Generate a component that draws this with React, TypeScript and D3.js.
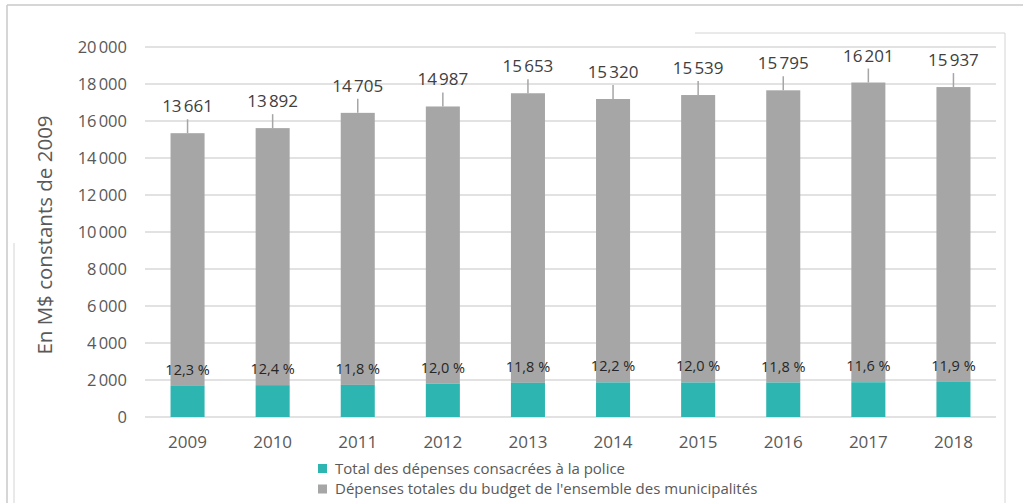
import React from 'react';
import * as d3 from 'd3';

const years = ['2009', '2010', '2011', '2012', '2013', '2014', '2015', '2016', '2017', '2018'];
// budget total hors police (étiquettes au-dessus des barres)
const totalBudget = [13661, 13892, 14705, 14987, 15653, 15320, 15539, 15795, 16201, 15937];
// dépenses de police (segment turquoise)
const policeSpend = [1680, 1723, 1735, 1798, 1847, 1869, 1865, 1864, 1879, 1897];
const policeShare = ['12,3 %', '12,4 %', '11,8 %', '12,0 %', '11,8 %', '12,2 %', '12,0 %', '11,8 %', '11,6 %', '11,9 %'];
const yTicks = [0, 2000, 4000, 6000, 8000, 10000, 12000, 14000, 16000, 18000, 20000];
const legendLabels = [
  'Total des dépenses consacrées à la police',
  "Dépenses totales du budget de l'ensemble des municipalités",
];

const W = 1023;
const H = 503;
const TEAL = '#2db5b1';
const GREY = '#a6a6a6';
const FONT = '"Open Sans", sans-serif';

const fmt = (v: number) => d3.format(',')(v).replace(/,/g, '\u202f');

export default function App() {
  const x = d3.scaleBand<string>().domain(years).range([145, 996]).paddingInner(0.6).paddingOuter(0.3);
  const y = d3.scaleLinear().domain([0, 20000]).range([417, 47]);
  const bw = x.bandwidth();

  return (
    <svg
      width={W}
      height={H}
      style={{ position: 'absolute', top: 0, left: 0, background: '#fff' }}
      fontFamily={FONT}
    >
      {/* cadres */}
      <line x1={7} x2={W} y1={5} y2={5} stroke="#c8c8c8" strokeWidth={1.5} />
      <line x1={7} x2={7} y1={5} y2={H} stroke="#c8c8c8" strokeWidth={1.5} />
      <line x1={14} x2={14} y1={243} y2={H} stroke="#d4d4d4" strokeWidth={1} />
      <line x1={695} x2={1005} y1={33} y2={33} stroke="#d4d4d4" strokeWidth={1} />
      <line x1={1005} x2={1005} y1={33} y2={H} stroke="#d4d4d4" strokeWidth={1} />

      {/* grille + axe y */}
      {yTicks.map((t) => (
        <g key={t}>
          <line x1={145} x2={996} y1={y(t)} y2={y(t)} stroke="#d9d9d9" strokeWidth={1.5} />
          <text x={127} y={y(t)} dy="0.35em" textAnchor="end" fontSize={16.5} fill="#595959">
            {fmt(t)}
          </text>
        </g>
      ))}

      <text
        transform={`translate(45,235) rotate(-90)`}
        textAnchor="middle"
        dy="0.35em"
        fontSize={20.5}
        fill="#595959"
      >
        En M$ constants de 2009
      </text>

      {years.map((yr, i) => {
        const x0 = x(yr) || 0;
        const cx = x0 + bw / 2;
        const pTop = y(policeSpend[i]);
        const top = y(policeSpend[i] + totalBudget[i]);
        return (
          <g key={yr}>
            <rect x={x0} width={bw} y={top} height={pTop - top} fill={GREY} />
            <rect x={x0} width={bw} y={pTop} height={y(0) - pTop} fill={TEAL} />
            <line x1={cx} x2={cx} y1={top} y2={top - 14} stroke={GREY} strokeWidth={1.5} />
            <text x={cx} y={top - 21} textAnchor="middle" fontSize={17} fill="#404040">
              {fmt(totalBudget[i])}
            </text>
            <text x={cx} y={pTop - 11} textAnchor="middle" fontSize={14.5} fill="#262626">
              {policeShare[i]}
            </text>
            <text x={cx} y={442} dy="0.35em" textAnchor="middle" fontSize={17} fill="#595959">
              {yr}
            </text>
          </g>
        );
      })}

      {/* légende */}
      {legendLabels.map((lab, i) => (
        <g key={lab} transform={`translate(318,${464 + i * 20.5})`}>
          <rect width={9} height={9} fill={i === 0 ? TEAL : GREY} />
          <text x={17} y={4.5} dy="0.35em" fontSize={15} fill="#595959">
            {lab}
          </text>
        </g>
      ))}
    </svg>
  );
}
